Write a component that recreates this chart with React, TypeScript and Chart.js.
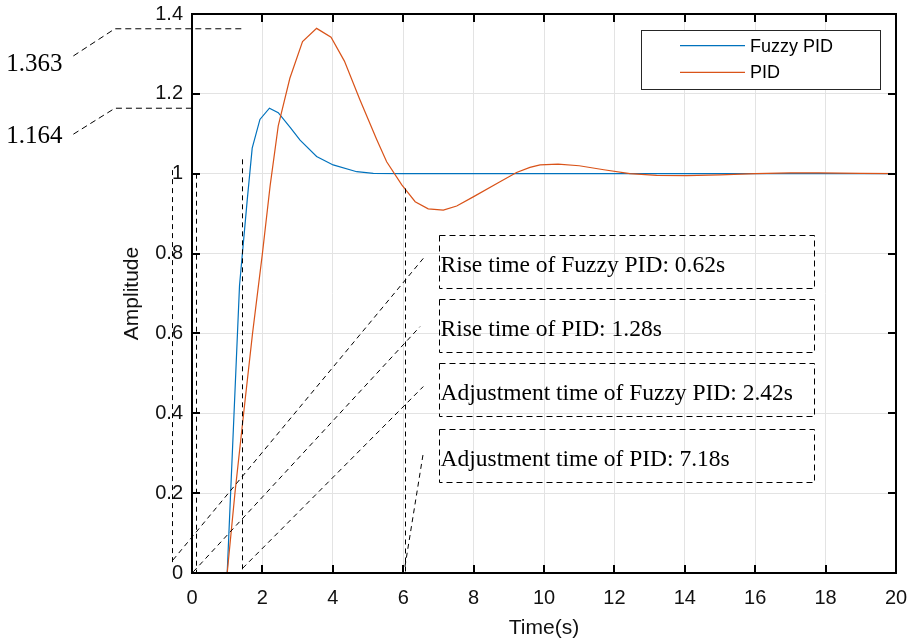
import React, { useEffect, useRef } from "react";
import { Chart, registerables } from "chart.js";

Chart.register(...registerables);

// ---- data ----
const fuzzyT = [0, 1.0, 1.35, 1.57, 1.71, 1.93, 2.2, 2.45, 2.8, 3.07, 3.54, 4.01, 4.68, 5.15, 6.0, 8.0, 12.0, 16.0, 20.0];
const fuzzyY = [0, 0, 0.72, 0.935, 1.064, 1.136, 1.164, 1.153, 1.115, 1.084, 1.043, 1.022, 1.005, 1.001, 1.0, 1.0, 1.0, 1.0, 1.0];

const pidT = [0, 1.0, 1.22, 1.48, 1.72, 2.0, 2.22, 2.45, 2.78, 3.14, 3.54, 3.95, 4.33, 4.77, 5.25, 5.53, 5.96, 6.34, 6.71, 7.14, 7.52, 7.99, 8.75, 9.22, 9.6, 9.89, 10.4, 11.0, 11.7, 12.44, 13.2, 14.05, 15.0, 16.0, 17.0, 17.8, 19.0, 20.0];
const pidY = [0, 0, 0.2, 0.41, 0.6, 0.8, 0.97, 1.12, 1.239, 1.331, 1.364, 1.342, 1.282, 1.185, 1.085, 1.03, 0.972, 0.93, 0.912, 0.909, 0.919, 0.942, 0.98, 1.003, 1.016, 1.022, 1.024, 1.02, 1.01, 1.0, 0.996, 0.995, 0.997, 1.0, 1.002, 1.002, 1.001, 1.0];

const seriesLabels = ["Fuzzy PID", "PID"];
const seriesColors = ["#0072BD", "#D95319"];

const xTicks = [0, 2, 4, 6, 8, 10, 12, 14, 16, 18, 20];
const xTickLabels = ["0", "2", "4", "6", "8", "10", "12", "14", "16", "18", "20"];
const yTicks = [0, 0.2, 0.4, 0.6, 0.8, 1.0, 1.2, 1.4];
const yTickLabels = ["0", "0.2", "0.4", "0.6", "0.8", "1", "1.2", "1.4"];

const xTitle = "Time(s)";
const yTitle = "Amplitude";

const peakLabels = ["1.363", "1.164"];
const boxTexts = [
  "Rise time of Fuzzy PID: 0.62s",
  "Rise time of PID: 1.28s",
  "Adjustment time of Fuzzy PID: 2.42s",
  "Adjustment time of PID: 7.18s",
];

// ---- annotation geometry (data coordinates) ----
const peakLeaders = [
  [[-3.37, 1.295], [-2.19, 1.363], [1.42, 1.363]],
  [[-3.37, 1.099], [-2.19, 1.164], [0, 1.164]],
];
const peakTextPos = [
  [-5.28, 1.257],
  [-5.28, 1.076],
];
const verticalMarks = [
  [-0.554, 1.009, 0.025],
  [0.1, 1.0, 0],
  [1.42, 1.036, 0],
  [6.04, 0.963, 0],
];
const diagonalLeaders = [
  [[-0.54, 0.0326], [6.571, 0.788]],
  [[0.037, 0.003], [6.477, 0.617]],
  [[1.44, 0.012], [6.571, 0.467]],
  [[6.05, 0.016], [6.571, 0.301]],
];
const boxX = [7.02, 17.67];
const boxY = [
  [0.8465, 0.7145],
  [0.6854, 0.5527],
  [0.5252, 0.3932],
  [0.3599, 0.2279],
];

const SANS = '"Liberation Sans", Arial, Helvetica, sans-serif';
const SERIF = '"Liberation Serif", "Times New Roman", serif';

const overlayPlugin = {
  id: "matlabOverlay",
  afterDatasetsDraw(chart: any) {
    const { ctx, chartArea: a, scales } = chart;
    const xs = scales.x;
    const ys = scales.y;
    const px = (v: number) => xs.getPixelForValue(v);
    const py = (v: number) => ys.getPixelForValue(v);
    ctx.save();

    // frame and inward ticks
    ctx.setLineDash([]);
    ctx.strokeStyle = "#000";
    ctx.lineWidth = 2;
    ctx.strokeRect(a.left, a.top, a.right - a.left, a.bottom - a.top);
    const tl = 8;
    ctx.beginPath();
    xTicks.forEach((v) => {
      const x = Math.round(px(v));
      ctx.moveTo(x, a.bottom);
      ctx.lineTo(x, a.bottom - tl);
      ctx.moveTo(x, a.top);
      ctx.lineTo(x, a.top + tl);
    });
    yTicks.forEach((v) => {
      const y = Math.round(py(v));
      ctx.moveTo(a.left, y);
      ctx.lineTo(a.left + tl, y);
      ctx.moveTo(a.right, y);
      ctx.lineTo(a.right - tl, y);
    });
    ctx.stroke();

    // axis titles
    ctx.fillStyle = "#111";
    ctx.font = `21px ${SANS}`;
    ctx.textAlign = "center";
    ctx.textBaseline = "middle";
    ctx.fillText(xTitle, (a.left + a.right) / 2, 628);
    ctx.save();
    ctx.translate(132, (a.top + a.bottom) / 2);
    ctx.rotate(-Math.PI / 2);
    ctx.fillText(yTitle, 0, 0);
    ctx.restore();

    // legend
    const lr = a.right - 15;
    const lt = a.top + 16;
    const lw = 240;
    const lh = 60;
    ctx.fillStyle = "#fff";
    ctx.fillRect(lr - lw, lt, lw, lh);
    ctx.strokeStyle = "#262626";
    ctx.lineWidth = 1;
    ctx.strokeRect(lr - lw + 0.5, lt + 0.5, lw - 1, lh - 1);
    ctx.font = `18px ${SANS}`;
    ctx.textAlign = "left";
    ctx.textBaseline = "middle";
    const rowsY = [lt + 15.7, lt + 42.3];
    seriesLabels.forEach((lab, i) => {
      ctx.strokeStyle = seriesColors[i];
      ctx.lineWidth = 1.2;
      ctx.beginPath();
      ctx.moveTo(lr - lw + 39, rowsY[i]);
      ctx.lineTo(lr - lw + 104, rowsY[i]);
      ctx.stroke();
      ctx.fillStyle = "#000";
      ctx.fillText(lab, lr - lw + 109, rowsY[i] + 1);
    });

    // annotations
    ctx.strokeStyle = "#000";
    ctx.lineWidth = 1;
    ctx.setLineDash([6, 4]);
    peakLeaders.forEach((pts) => {
      ctx.beginPath();
      pts.forEach((p, i) => {
        if (i === 0) ctx.moveTo(px(p[0]), py(p[1]));
        else ctx.lineTo(px(p[0]), py(p[1]));
      });
      ctx.stroke();
    });
    ctx.setLineDash([5, 4]);
    verticalMarks.forEach(([x, y1, y2]) => {
      const X = Math.round(px(x)) + 0.5;
      ctx.beginPath();
      ctx.moveTo(X, py(y1));
      ctx.lineTo(X, py(y2));
      ctx.stroke();
    });
    diagonalLeaders.forEach(([p1, p2]) => {
      ctx.beginPath();
      ctx.moveTo(px(p1[0]), py(p1[1]));
      ctx.lineTo(px(p2[0]), py(p2[1]));
      ctx.stroke();
    });

    ctx.setLineDash([6, 4]);
    ctx.fillStyle = "#000";
    ctx.font = `23.5px ${SERIF}`;
    ctx.textAlign = "left";
    ctx.textBaseline = "alphabetic";
    boxY.forEach(([yt, yb], i) => {
      const L = Math.round(px(boxX[0])) + 0.5;
      const R = Math.round(px(boxX[1])) + 0.5;
      const T = Math.round(py(yt)) + 0.5;
      const B = Math.round(py(yb)) + 0.5;
      ctx.strokeRect(L, T, R - L, B - T);
      ctx.fillText(boxTexts[i], L + 1, B - 17);
    });

    ctx.font = `25px ${SERIF}`;
    peakLabels.forEach((lab, i) => {
      ctx.fillText(lab, px(peakTextPos[i][0]), py(peakTextPos[i][1]));
    });

    ctx.restore();
  },
};

const zeroPad = (s: any) => {
  s.paddingLeft = 0;
  s.paddingRight = 0;
  s.paddingTop = 0;
  s.paddingBottom = 0;
};

export default function App() {
  const canvasRef = useRef<HTMLCanvasElement | null>(null);

  useEffect(() => {
    const canvas = canvasRef.current;
    if (!canvas) return;
    const makeData = (ts: number[], vs: number[]) => ts.map((t, i) => ({ x: t, y: vs[i] }));
    const chart = new Chart(canvas, {
      type: "line",
      data: {
        datasets: [
          {
            label: seriesLabels[0],
            data: makeData(fuzzyT, fuzzyY),
            borderColor: seriesColors[0],
            backgroundColor: seriesColors[0],
            borderWidth: 1.2,
            pointRadius: 0,
            tension: 0,
            fill: false,
            order: 1,
          },
          {
            label: seriesLabels[1],
            data: makeData(pidT, pidY),
            borderColor: seriesColors[1],
            backgroundColor: seriesColors[1],
            borderWidth: 1.2,
            pointRadius: 0,
            tension: 0,
            fill: false,
            order: 0,
          },
        ],
      },
      options: {
        responsive: false,
        animation: false,
        layout: { padding: { left: 0, right: 18, top: 14, bottom: 0 } },
        plugins: {
          legend: { display: false },
          tooltip: { enabled: false },
        },
        scales: {
          x: {
            type: "linear",
            min: 0,
            max: 20,
            afterFit: (s: any) => {
              s.height = 68;
              zeroPad(s);
            },
            afterBuildTicks: (s: any) => {
              s.ticks = xTicks.map((v) => ({ value: v }));
            },
            ticks: {
              padding: 13,
              color: "#111",
              font: { family: SANS, size: 20 },
              maxRotation: 0,
              autoSkip: false,
              callback: (_v: any, i: number) => xTickLabels[i],
            },
            grid: { color: "#e3e3e3", lineWidth: 1, drawTicks: false },
            border: { display: false },
          },
          y: {
            type: "linear",
            min: 0,
            max: 1.4,
            afterFit: (s: any) => {
              s.width = 192;
              zeroPad(s);
            },
            afterBuildTicks: (s: any) => {
              s.ticks = yTicks.map((v) => ({ value: v }));
            },
            ticks: {
              padding: 9,
              color: "#111",
              font: { family: SANS, size: 20 },
              autoSkip: false,
              callback: (_v: any, i: number) => yTickLabels[i],
            },
            grid: { color: "#e3e3e3", lineWidth: 1, drawTicks: false },
            border: { display: false },
          },
        },
      },
      plugins: [overlayPlugin],
    });
    return () => chart.destroy();
  }, []);

  return (
    <div style={{ position: "absolute", left: 0, top: 0, width: 914, height: 641, background: "#fff" }}>
      <canvas ref={canvasRef} width={914} height={641} style={{ display: "block" }} />
    </div>
  );
}
